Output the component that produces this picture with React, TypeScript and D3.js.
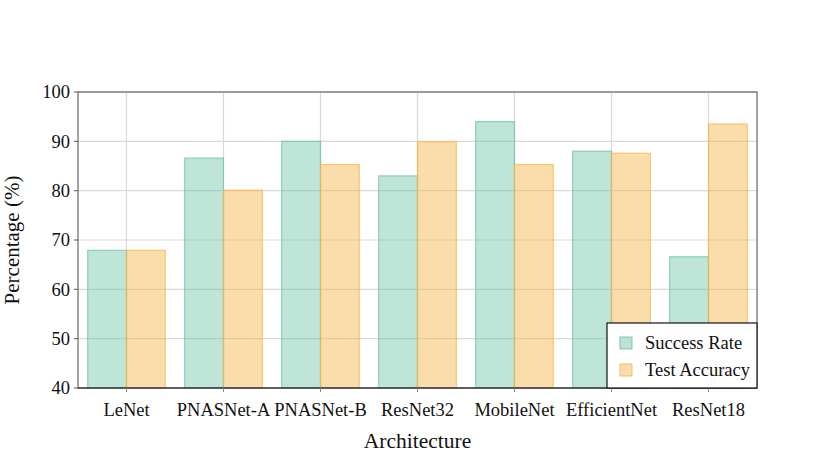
import * as d3 from 'd3';

const categories = ['LeNet', 'PNASNet-A', 'PNASNet-B', 'ResNet32', 'MobileNet', 'EfficientNet', 'ResNet18'];
const successRate = [67.9, 86.6, 90, 83, 94, 88, 66.6];
const testAccuracy = [67.9, 80.1, 85.3, 89.9, 85.3, 87.6, 93.5];
const yTicks = [40, 50, 60, 70, 80, 90, 100];

const series = [
  { name: 'Success Rate', values: successRate, fill: '#66c2a5', stroke: '#66c2a5' },
  { name: 'Test Accuracy', values: testAccuracy, fill: '#f7b348', stroke: '#f7b348' },
];

export default function App() {
  const W = 830;
  const H = 462;
  const m = { top: 92, right: 73, bottom: 74, left: 78 };
  const iw = W - m.left - m.right;
  const ih = H - m.top - m.bottom;

  const x = d3.scaleBand().domain(categories).range([0, iw]).paddingInner(0.2).paddingOuter(0.1);
  const y = d3.scaleLinear().domain([40, 100]).range([ih, 0]);
  const barW = x.bandwidth() / 2;

  const font = '"Liberation Serif", "Times New Roman", serif';

  return (
    <svg width={W} height={H} style={{ position: 'absolute', left: 0, top: 0, fontFamily: font }}>
      <g transform={`translate(${m.left},${m.top})`}>
        {/* grid */}
        {yTicks.map((t) => (
          <line key={'gy' + t} x1={0} x2={iw} y1={y(t)} y2={y(t)} stroke="#d9d9d9" strokeWidth={1.2} />
        ))}
        {categories.map((c) => {
          const cx = (x(c) ?? 0) + x.bandwidth() / 2;
          return <line key={'gx' + c} x1={cx} x2={cx} y1={0} y2={ih} stroke="#d9d9d9" strokeWidth={1.2} />;
        })}

        {/* bars */}
        {series.map((s, si) =>
          categories.map((c, i) => {
            const cx = (x(c) ?? 0) + x.bandwidth() / 2;
            const bx = si === 0 ? cx - barW : cx;
            return (
              <rect
                key={s.name + c}
                x={bx}
                y={y(s.values[i])}
                width={barW}
                height={ih - y(s.values[i])}
                fill={s.fill}
                fillOpacity={si === 0 ? 0.42 : 0.45}
                stroke={s.stroke}
                strokeOpacity={0.7}
                strokeWidth={1.2}
              />
            );
          })
        )}

        {/* spines */}
        <rect x={0} y={0} width={iw} height={ih} fill="none" stroke="#666" strokeWidth={1.2} />
        <line x1={0} x2={iw} y1={ih} y2={ih} stroke="#222" strokeWidth={1.2} />

        {/* y axis ticks */}
        {yTicks.map((t) => (
          <g key={'yt' + t} transform={`translate(0,${y(t)})`}>
            <line x1={-4} x2={0} stroke="#555" strokeWidth={1} />
            <text x={-8} dy="0.34em" textAnchor="end" fontSize={18.5} fill="#111">
              {t}
            </text>
          </g>
        ))}

        {/* x axis ticks */}
        {categories.map((c) => {
          const cx = (x(c) ?? 0) + x.bandwidth() / 2;
          return (
            <g key={'xt' + c} transform={`translate(${cx},${ih})`}>
              <line y1={0} y2={4} stroke="#888" strokeWidth={1} />
              <text y={28} textAnchor="middle" fontSize={18.5} fill="#111">
                {c}
              </text>
            </g>
          );
        })}

        {/* axis titles */}
        <text x={iw / 2} y={ih + 60} textAnchor="middle" fontSize={21.5} fill="#111">
          Architecture
        </text>
        <text
          transform={`translate(${-59},${ih / 2}) rotate(-90)`}
          textAnchor="middle"
          fontSize={21}
          fill="#111"
        >
          Percentage (%)
        </text>

        {/* legend */}
        <g transform={`translate(${iw - 150},${ih - 65})`}>
          <rect x={0} y={0} width={150} height={65} fill="#fff" stroke="#111" strokeWidth={1.2} />
          {series.map((s, i) => (
            <g key={'lg' + s.name} transform={`translate(0,${20 + i * 27})`}>
              <rect
                x={13}
                y={-6}
                width={12}
                height={12}
                fill={s.fill}
                fillOpacity={0.45}
                stroke={s.stroke}
                strokeOpacity={0.7}
                strokeWidth={1.2}
              />
              <text x={38} dy="0.35em" fontSize={18.5} fill="#111">
                {s.name}
              </text>
            </g>
          ))}
        </g>
      </g>
    </svg>
  );
}
